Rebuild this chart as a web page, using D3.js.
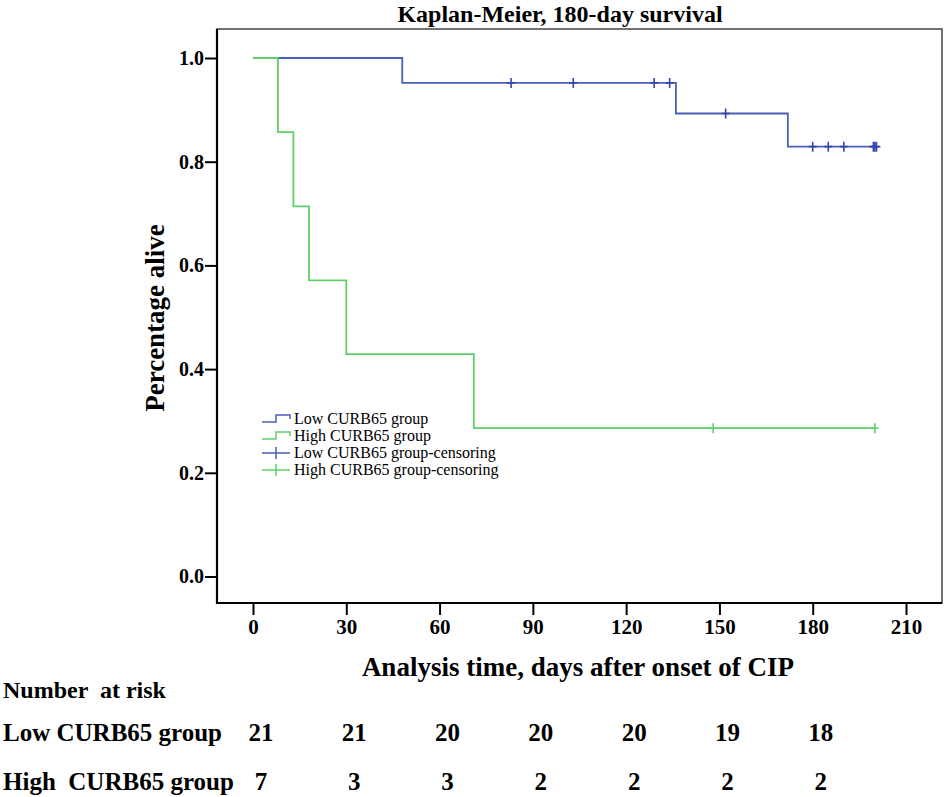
<!DOCTYPE html>
<html>
<head>
<meta charset="utf-8">
<script src="https://cdn.jsdelivr.net/npm/d3@7"></script>
<style>
  body { margin: 0; background: #fff; }
  svg text { font-family: "Liberation Serif", "Times New Roman", serif; }
</style>
</head>
<body>
<div id="vis"></div>
<script>
var w = 945,
    h = 797,
    serif = "'Liberation Serif','Times New Roman',serif";

// step curves (time in days, survival)
var lowTimes  = [0, 48, 136, 172, 201];
var lowSurv   = [1.0, 0.952, 0.893, 0.829, 0.829];
var highTimes = [0, 8, 13, 18, 30, 71, 200];
var highSurv  = [1.0, 0.857, 0.714, 0.571, 0.429, 0.286, 0.286];

// censoring marks
var lowCensor  = [83, 103, 129, 134, 152, 180, 185, 190, 199.5, 200, 200.5];
var highCensor = [148, 200];

// axes
var xTicks = [0, 30, 60, 90, 120, 150, 180, 210];
var yTicks = [0.0, 0.2, 0.4, 0.6, 0.8, 1.0];

// number at risk table
var riskTimes = [0, 30, 60, 90, 120, 150, 180];
var riskLow   = [21, 21, 20, 20, 20, 19, 18];
var riskHigh  = [7, 3, 3, 2, 2, 2, 2];

var blue = "#4c5fb8",
    blueDark = "#3447a8",
    green = "#5fcf6b";

var x = d3.scaleLinear().domain([0, 210]).range([253, 906]);
var y = d3.scaleLinear().domain([0, 1]).range([576.5, 58]);

var svg = d3.select("#vis").append("svg")
    .attr("width", w)
    .attr("height", h)
    .style("font-family", serif);

// plot frame
var frame = {x0: 217, y0: 29, x1: 942, y1: 603};
svg.append("rect")
    .attr("x", frame.x0).attr("y", frame.y0)
    .attr("width", frame.x1 - frame.x0).attr("height", frame.y1 - frame.y0)
    .style("fill", "none").style("stroke", "#444").style("stroke-width", 1.5);

// axes (outer ticks)
var yAxis = d3.axisLeft(y).tickValues(yTicks).tickSize(12).tickFormat(d3.format(".1f"));
var gy = svg.append("g").attr("transform", "translate(" + frame.x0 + ",0)").call(yAxis);
gy.select(".domain").remove();
gy.attr("font-family", serif);
gy.selectAll("line").style("stroke", "#000").style("stroke-width", 2);
gy.selectAll("text")
    .attr("x", -13)
    .style("font-size", "20px").style("font-weight", "bold")
    .style("font-family", serif);

var xAxis = d3.axisBottom(x).tickValues(xTicks).tickSize(12).tickPadding(4);
var gx = svg.append("g").attr("transform", "translate(0," + frame.y1 + ")").call(xAxis);
gx.select(".domain").remove();
gx.attr("font-family", serif);
gx.selectAll("line").style("stroke", "#000").style("stroke-width", 2);
gx.selectAll("text")
    .style("font-size", "21px").style("font-weight", "bold")
    .style("font-family", serif);

// left and bottom axis lines, darker
svg.append("line").attr("x1", frame.x0).attr("x2", frame.x0)
    .attr("y1", frame.y0).attr("y2", frame.y1 + 1)
    .style("stroke", "#000").style("stroke-width", 2.2);
svg.append("line").attr("x1", frame.x0).attr("x2", frame.x1)
    .attr("y1", frame.y1).attr("y2", frame.y1)
    .style("stroke", "#000").style("stroke-width", 2.2);

// curves
var step = d3.line()
    .x(function(d){ return x(d[0]); })
    .y(function(d){ return y(d[1]); })
    .curve(d3.curveStepAfter);

var lowData = d3.zip(lowTimes, lowSurv);
var highData = d3.zip(highTimes, highSurv);

// survival at time t for censor marks
var survAt = function(times, surv, t){
    var s = surv[0];
    for(var i=0; i<times.length; i++){
        if(times[i] <= t) s = surv[i];
    }
    return s;
}

var drawCensor = function(times, surv, marks, col){
    svg.append("g").selectAll("path")
        .data(marks)
        .enter().append("path")
        .attr("d", function(t){
            var cx = x(t), cy = y(survAt(times, surv, t));
            return "M " + (cx-4) + " " + cy + " L " + (cx+4) + " " + cy +
                   " M " + cx + " " + (cy-5) + " L " + cx + " " + (cy+5);
        })
        .style("stroke", col).style("stroke-width", 1.6).style("fill", "none");
}

svg.append("path").attr("d", step(lowData))
    .style("stroke", blue).style("stroke-width", 1.8).style("fill", "none");
drawCensor(lowTimes, lowSurv, lowCensor, blueDark);

svg.append("path").attr("d", step(highData))
    .style("stroke", green).style("stroke-width", 1.8).style("fill", "none");
drawCensor(highTimes, highSurv, highCensor, green);

// title and axis titles
svg.append("text")
    .attr("x", 560).attr("y", 22)
    .attr("text-anchor", "middle")
    .style("font-size", "24px").style("font-weight", "bold")
    .text("Kaplan-Meier, 180-day survival");

svg.append("text")
    .attr("transform", "translate(164,318) rotate(-90)")
    .attr("text-anchor", "middle")
    .style("font-size", "27px").style("font-weight", "bold")
    .text("Percentage alive");

svg.append("text")
    .attr("x", 578).attr("y", 676)
    .attr("text-anchor", "middle")
    .style("font-size", "27px").style("font-weight", "bold")
    .text("Analysis time, days after onset of CIP");

// legend
var legendItems = [
    {label: "Low CURB65 group", col: blue, kind: "step"},
    {label: "High CURB65 group", col: green, kind: "step"},
    {label: "Low CURB65 group-censoring", col: blue, kind: "censor"},
    {label: "High CURB65 group-censoring", col: green, kind: "censor"}
];
var legend = svg.append("g").attr("transform", "translate(262,419)");
legend.selectAll("g.item")
    .data(legendItems)
    .enter().append("g")
    .attr("class", "item")
    .attr("transform", function(d, i){ return "translate(0," + (i*17) + ")"; })
    .each(function(d){
        var g = d3.select(this);
        if(d.kind == "step"){
            g.append("path")
                .attr("d", "M 0 3 L 14 3 L 14 -4 L 28 -4 L 28 0")
                .style("stroke", d.col).style("stroke-width", 1.5).style("fill", "none");
        } else {
            g.append("path")
                .attr("d", "M 0 0 L 28 0 M 14 -6 L 14 6")
                .style("stroke", d.col).style("stroke-width", 1.5).style("fill", "none");
        }
        g.append("text")
            .attr("x", 32).attr("y", 5)
            .style("font-size", "16px")
            .text(d.label);
    });

// number at risk
svg.append("text")
    .attr("x", 3).attr("y", 698)
    .style("font-size", "24px").style("font-weight", "bold")
    .style("white-space", "pre")
    .text("Number  at risk");

var rows = [
    {label: "Low CURB65 group", vals: riskLow, y: 741},
    {label: "High  CURB65 group", vals: riskHigh, y: 790}
];
rows.forEach(function(r){
    svg.append("text")
        .attr("x", 3).attr("y", r.y)
        .style("font-size", "25px").style("font-weight", "bold")
        .style("white-space", "pre")
        .text(r.label);
    svg.append("g").selectAll("text")
        .data(r.vals)
        .enter().append("text")
        .attr("x", function(d, i){ return x(riskTimes[i]) + 8; })
        .attr("y", r.y)
        .attr("text-anchor", "middle")
        .style("font-size", "25px").style("font-weight", "bold")
        .text(function(d){ return d; });
});
</script>
</body>
</html>
